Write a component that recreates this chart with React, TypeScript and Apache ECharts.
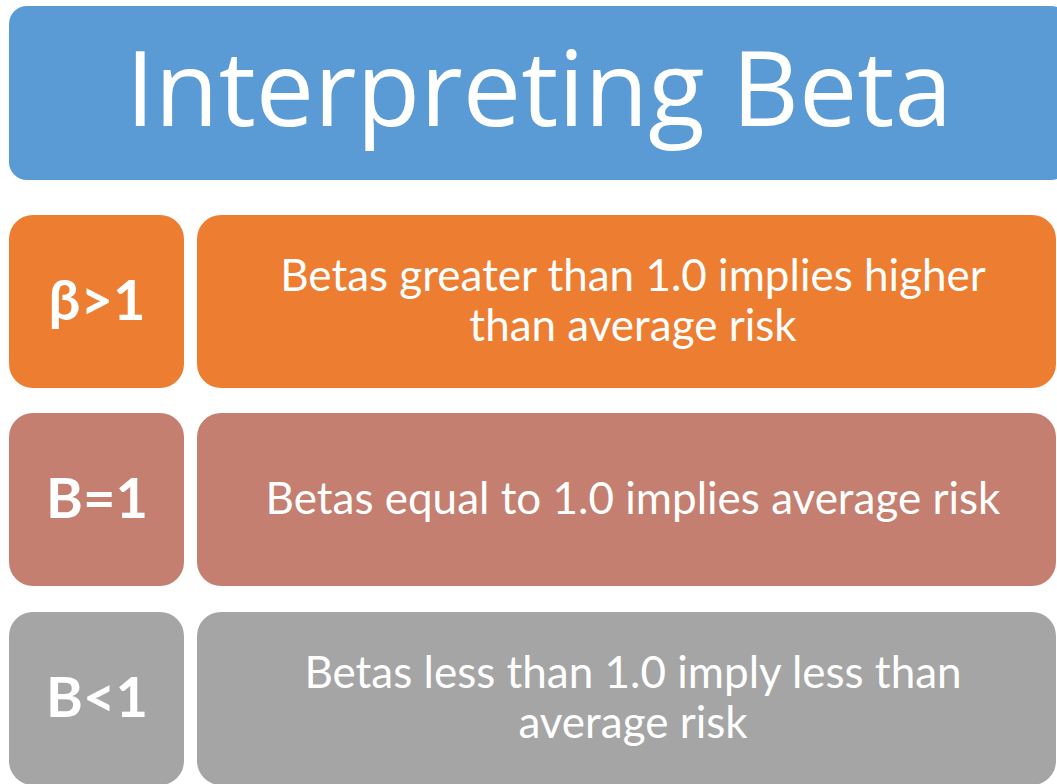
import React, { useEffect, useRef } from "react";
import * as echarts from "echarts";

const titleText = "Interpreting Beta";
const rowLabels = ["β>1", "B=1", "B<1"];
const rowDescriptions = [
  "Betas greater than 1.0 implies higher\nthan average risk",
  "Betas equal to 1.0 implies average risk",
  "Betas less than 1.0 imply less than\naverage risk",
];
const rowColors = ["#ED7D31", "#C47F70", "#A5A5A5"];
const titleColor = "#5B9BD5";

export default function App() {
  const ref = useRef<HTMLDivElement>(null);
  useEffect(() => {
    document.body.style.margin = "0";
    const chart = echarts.init(ref.current!, null, { renderer: "svg" });
    const rowTops = [215, 413, 612];
    const rowH = 173;
    const elements: any[] = [
      {
        type: "rect",
        shape: { x: 9, y: 6, width: 1060, height: 174, r: 18 },
        style: { fill: titleColor },
      },
      {
        type: "text",
        x: 539,
        y: 85,
        style: {
          text: titleText,
          fill: "#fff",
          font: "104px 'Open Sans'",
          align: "center",
          verticalAlign: "middle",
        },
      },
    ];
    rowLabels.forEach((lab, i) => {
      const top = rowTops[i];
      elements.push({
        type: "rect",
        shape: { x: 9, y: top, width: 175, height: rowH, r: 24 },
        style: { fill: rowColors[i] },
      });
      elements.push({
        type: "rect",
        shape: { x: 197, y: top, width: 859, height: rowH, r: 24 },
        style: { fill: rowColors[i] },
      });
      elements.push({
        type: "text",
        x: 97,
        y: top + rowH / 2 - 3,
        style: {
          text: lab,
          fill: "#fff",
          font: "bold 56px Lato",
          align: "center",
          verticalAlign: "middle",
        },
      });
      elements.push({
        type: "text",
        x: 633,
        y: top + rowH / 2 - 3,
        style: {
          text: rowDescriptions[i],
          fill: "#fff",
          font: "44px Lato",
          lineHeight: 50,
          align: "center",
          verticalAlign: "middle",
        },
      });
    });
    chart.setOption({
      animation: false,
      backgroundColor: "#fff",
      graphic: { elements },
    });
    return () => chart.dispose();
  }, []);
  return <div ref={ref} style={{ width: 1057, height: 784, position: "absolute", left: 0, top: 0, overflow: "hidden" }} />;
}
